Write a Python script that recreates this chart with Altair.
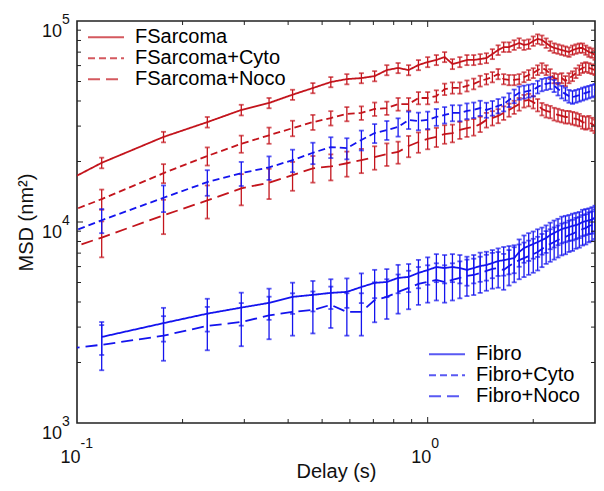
import altair as alt
import pandas as pd

FONT = "Liberation Sans"

# Delay (s): frames at 17 Hz
delay = [0.0588, 0.1176, 0.1765, 0.2353, 0.2941, 0.3529, 0.4118, 0.4706, 0.5294, 0.5882,
         0.6471, 0.7059, 0.7647, 0.8235, 0.8824, 0.9412, 1.0, 1.0588, 1.1176, 1.1765,
         1.2353, 1.2941, 1.3529, 1.4118, 1.4706, 1.5294, 1.5882, 1.6471, 1.7059, 1.7647,
         1.8235, 1.8824, 1.9412, 2.0, 2.0588, 2.1176, 2.1765, 2.2353, 2.2941, 2.3529,
         2.4118, 2.4706, 2.5294, 2.5882, 2.6471, 2.7059, 2.7647, 2.8235, 2.8824, 2.9412, 3.0]

red_names = ["FSarcoma", "FSarcoma+Cyto", "FSarcoma+Noco"]
blue_names = ["Fibro", "Fibro+Cyto", "Fibro+Noco"]

fsarcoma = [10500, 19700, 26500, 31400, 36100, 39100, 43000, 46400, 49700, 51400,
            52000, 53200, 57000, 58400, 57000, 60400, 62500, 64000, 66200, 61100,
            62500, 64000, 64000, 64700, 65400, 68500, 71700, 74200, 74200, 76000,
            77700, 76000, 76800, 79500, 81400, 80400, 77700, 75100, 73400, 72600,
            71700, 70900, 70100, 71700, 72600, 73400, 73400, 71700, 70100, 69300, 67700]
fsarcoma_err = [700, 1200, 1600, 1900, 2200, 2300, 2500, 2700, 2900, 3000,
                3000, 3100, 3300, 3400, 3300, 3500, 3600, 3700, 3800, 3500,
                3600, 3700, 3700, 3700, 3700, 3900, 4000, 4100, 4100, 4200,
                4300, 4200, 4200, 4300, 4400, 4300, 4200, 4100, 4000, 3900,
                3900, 3800, 3800, 3800, 3900, 3900, 3900, 3800, 3700, 3700, 3600]

fsarcoma_cyto = [8130, 13000, 17500, 21300, 24500, 27000, 29300, 31400, 32900, 34500,
                 34900, 36500, 36900, 38600, 38600, 41400, 41400, 42300, 45800, 46500,
                 46500, 47600, 48700, 50300, 51400, 52600, 54500, 51400, 50900, 50900,
                 51400, 52600, 53900, 55100, 57000, 58400, 57000, 54500, 52000, 51400,
                 52000, 50300, 52000, 53200, 55100, 57000, 58400, 59100, 58400, 57700, 57000]
fsarcoma_cyto_err = [900, 1500, 1900, 2200, 2400, 2500, 2600, 2700, 2700, 2800,
                     2700, 2800, 2800, 2800, 2800, 2900, 2900, 2900, 3000, 3000,
                     3000, 3000, 3000, 3100, 3100, 3100, 3200, 3000, 3000, 3000,
                     3000, 3000, 3100, 3100, 3200, 3300, 3200, 3100, 3000, 3000,
                     3000, 2900, 3000, 3000, 3100, 3200, 3300, 3300, 3300, 3200, 3200]

fsarcoma_noco = [5580, 8370, 10800, 12800, 14700, 15700, 17100, 18500, 18900, 19600,
                 20300, 21000, 21800, 22300, 23900, 25000, 25900, 26500, 27400, 27700,
                 28700, 29300, 29700, 30700, 32200, 32900, 33700, 34900, 36100, 37300,
                 38600, 40000, 40500, 39500, 38200, 36500, 35700, 35300, 34500, 34100,
                 33700, 33300, 33300, 32900, 32600, 32200, 31400, 31100, 31400, 30700, 30000]
fsarcoma_noco_err = [1100, 1700, 2100, 2400, 2600, 2700, 2800, 2800, 2800, 2800,
                     2800, 2800, 2800, 2800, 2900, 2900, 2900, 2900, 2900, 2800,
                     2800, 2800, 2800, 2700, 2700, 2700, 2700, 2700, 2700, 2800,
                     2800, 2900, 2900, 2800, 2700, 2600, 2600, 2500, 2500, 2500,
                     2400, 2400, 2400, 2400, 2400, 2300, 2300, 2300, 2300, 2300, 2300]

fibro = [None, 2680, 3140, 3500, 3750, 3960, 4240, 4340, 4440, 4490,
         4750, 4980, 5030, 5270, 5330, 5580, 5770, 5970, 5900, 5970,
         5900, 5770, 5900, 6040, 6110, 6250, 6390, 6460, 6540, 6610,
         7090, 7420, 7600, 7770, 7950, 8130, 8320, 8620, 8820, 9020,
         9230, 9330, 9440, 9550, 9660, 9770, 10000, 10100, 10200, 10300, 10500]
fibro_err = [None, 500, 600, 650, 700, 700, 750, 750, 750, 750,
             800, 800, 800, 850, 850, 900, 900, 950, 950, 950,
             950, 950, 950, 1000, 1000, 1000, 1000, 1050, 1050, 1050,
             1100, 1150, 1200, 1200, 1250, 1250, 1300, 1300, 1350, 1350,
             1400, 1400, 1400, 1450, 1450, 1450, 1500, 1500, 1500, 1550, 1550]

fibro_cyto = [6390, 10200, 13200, 15800, 17500, 18700, 20300, 22100, 23600, 23300,
              25600, 27700, 28700, 29700, 32200, 31800, 32200, 33300, 34100, 34900,
              34900, 35700, 36100, 36900, 36100, 36900, 37800, 38600, 40500, 42300,
              43900, 44400, 44900, 45400, 47000, 48100, 48700, 49200, 47600, 45900,
              44400, 43400, 42300, 41800, 42300, 42800, 43400, 43900, 44400, 44900, 45400]
fibro_cyto_err = [900, 1400, 2000, 2300, 2400, 2500, 2600, 2700, 2800, 2800,
                  2900, 3000, 3100, 3100, 3200, 3200, 3200, 3200, 3200, 3200,
                  3200, 3200, 3200, 3200, 3100, 3100, 3100, 3100, 3200, 3300,
                  3300, 3300, 3300, 3300, 3400, 3400, 3400, 3400, 3300, 3300,
                  3200, 3200, 3100, 3100, 3100, 3100, 3200, 3200, 3200, 3200, 3200]

fibro_noco = [2130, 2450, 2720, 3040, 3180, 3430, 3570, 3650, 3870, 3570,
              3570, 4090, 4240, 4490, 4700, 4920, 5030, 5150, 5030, 5150,
              5270, 5390, 5450, 5580, 5710, 5840, 5900, 5770, 6040, 6250,
              6460, 6610, 6770, 6920, 7090, 7340, 7600, 7770, 7950, 8130,
              8320, 8420, 8620, 8720, 8920, 9020, 9230, 9330, 9550, 9660, 9890]
fibro_noco_err = [500, 620, 680, 740, 770, 820, 850, 860, 900, 850,
                  850, 920, 950, 990, 1020, 1050, 1060, 1080, 1060, 1080,
                  1100, 1110, 1120, 1140, 1160, 1180, 1190, 1170, 1210, 1240,
                  1270, 1290, 1310, 1330, 1350, 1380, 1410, 1430, 1450, 1470,
                  1500, 1510, 1530, 1540, 1560, 1570, 1590, 1600, 1620, 1630, 1660]

# tick labels (base 10 with exponents)
x_label_values = [0.1, 1.0]
x_label_exps = ["-1", "0"]
y_label_values = [1000, 10000, 100000]
y_label_exps = ["3", "4", "5"]

red_color = "#c3141c"
blue_color = "#1414ee"
dashes = [[1, 0], [7, 4], [12, 6]]

x_major = [1.0]
x_minor = [0.2, 0.3, 0.4, 0.5, 0.6, 0.7, 0.8, 0.9, 2.0]
y_major = [10000]
y_minor = [2000, 3000, 4000, 5000, 6000, 7000, 8000, 9000,
           20000, 30000, 40000, 50000, 60000, 70000, 80000, 90000]


def long_table(names, values, errors):
    rows = []
    for name, vals, errs in zip(names, values, errors):
        for d, v, e in zip(delay, vals, errs):
            if v is None:
                continue
            row = {"Delay": d, "MSD": v, "Series": name}
            if e is not None:
                row["lo"] = v - e
                row["hi"] = v + e
            rows.append(row)
    return pd.DataFrame(rows)


red_df = long_table(red_names, [fsarcoma, fsarcoma_cyto, fsarcoma_noco],
                    [fsarcoma_err, fsarcoma_cyto_err, fsarcoma_noco_err])
blue_df = long_table(blue_names, [fibro, fibro_cyto, fibro_noco],
                     [fibro_err, fibro_cyto_err, fibro_noco_err])

W, H = 518, 402
xs = alt.Scale(type="log", domain=[0.1, 3], nice=False)
ys = alt.Scale(type="log", domain=[1000, 100000], nice=False)

x_axis = alt.Axis(values=[0.1, 1], labels=False,
                  title="Delay (s)", domain=False, ticks=False, tickSize=0, grid=False,
                  titleFontSize=20, titleX=W / 2, titleY=54, titleBaseline="alphabetic",
                  titleAlign="center")
y_axis = alt.Axis(values=[1000, 10000, 100000], labels=False,
                  title="MSD (nm²)", domain=False, ticks=False, tickSize=0, grid=False,
                  titleFontSize=20, titleAngle=270, titleX=-45, titleY=H / 2,
                  titleAlign="center", titleBaseline="alphabetic")


def legend(x, y):
    return alt.Legend(orient="none", legendX=x, legendY=y, title=None,
                      symbolType="stroke", symbolSize=1296, symbolStrokeWidth=1.8,
                      labelFontSize=20, labelFont=FONT, labelColor="black",
                      labelOffset=10, rowPadding=0, padding=0, clipHeight=20.5)


def group(df, names, color, leg, with_axes):
    cscale = alt.Scale(domain=names, range=[color] * 3)
    dscale = alt.Scale(domain=names, range=dashes)
    base = alt.Chart(df)
    if with_axes:
        xe = alt.X("Delay:Q", scale=xs, axis=x_axis)
        ye = alt.Y("MSD:Q", scale=ys, axis=y_axis)
    else:
        xe = alt.X("Delay:Q", scale=xs)
        ye = alt.Y("MSD:Q", scale=ys)
    lines = base.mark_line(clip=True, strokeWidth=1.8).encode(
        x=xe, y=ye,
        color=alt.Color("Series:N", scale=cscale, legend=leg),
        strokeDash=alt.StrokeDash("Series:N", scale=dscale, legend=leg),
    )
    bars = base.mark_rule(clip=True, strokeWidth=1.3).encode(
        x=alt.X("Delay:Q", scale=xs),
        y=alt.Y("lo:Q", scale=ys),
        y2="hi:Q",
        color=alt.Color("Series:N", scale=cscale),
    )
    cap_lo = base.mark_tick(clip=True, orient="horizontal", size=5, thickness=1.8).encode(
        x=alt.X("Delay:Q", scale=xs),
        y=alt.Y("lo:Q", scale=ys),
        color=alt.Color("Series:N", scale=cscale),
    )
    cap_hi = base.mark_tick(clip=True, orient="horizontal", size=5, thickness=1.8).encode(
        x=alt.X("Delay:Q", scale=xs),
        y=alt.Y("hi:Q", scale=ys),
        color=alt.Color("Series:N", scale=cscale),
    )
    return alt.layer(lines, bars, cap_lo, cap_hi)


red = group(red_df, red_names, red_color, legend(10, 6), True)
blue = group(blue_df, blue_names, blue_color, legend(351, 323), False)

TICK = "#222222"


def xticks(vals, length):
    d = pd.DataFrame({"t": vals})
    b = alt.Chart(d).mark_rule(color=TICK, strokeWidth=1)
    bottom = b.encode(x=alt.X("t:Q", scale=xs), y=alt.value(H), y2=alt.value(H - length))
    top = b.encode(x=alt.X("t:Q", scale=xs), y=alt.value(0), y2=alt.value(length))
    return [bottom, top]


def yticks(vals, length):
    d = pd.DataFrame({"t": vals})
    b = alt.Chart(d).mark_rule(color=TICK, strokeWidth=1)
    left = b.encode(y=alt.Y("t:Q", scale=ys), x=alt.value(0), x2=alt.value(length))
    right = b.encode(y=alt.Y("t:Q", scale=ys), x=alt.value(W), x2=alt.value(W - length))
    return [left, right]


tick_layers = xticks(x_major, 6) + xticks(x_minor, 4) + yticks(y_major, 6) + yticks(y_minor, 4)

LBL = "#111111"
xl = pd.DataFrame({"v": x_label_values, "base": ["10"] * 2, "exp": x_label_exps})
yl = pd.DataFrame({"v": y_label_values, "base": ["10"] * 3, "exp": y_label_exps})
x_base = alt.Chart(xl).mark_text(align="right", baseline="alphabetic", fontSize=18,
                                 dx=3.5, color=LBL, font=FONT).encode(
    x=alt.X("v:Q", scale=xs), y=alt.value(H + 40), text="base:N")
x_exp = alt.Chart(xl).mark_text(align="left", baseline="alphabetic", fontSize=14,
                                dx=3.5, color=LBL, font=FONT).encode(
    x=alt.X("v:Q", scale=xs), y=alt.value(H + 25), text="exp:N")
y_base = alt.Chart(yl).mark_text(align="right", baseline="alphabetic", fontSize=18,
                                 dy=16, color=LBL, font=FONT).encode(
    y=alt.Y("v:Q", scale=ys), x=alt.value(-15), text="base:N")
y_exp = alt.Chart(yl).mark_text(align="left", baseline="alphabetic", fontSize=14,
                                dy=3, color=LBL, font=FONT).encode(
    y=alt.Y("v:Q", scale=ys), x=alt.value(-15), text="exp:N")

chart = alt.layer(red, blue, *tick_layers, x_base, x_exp, y_base, y_exp).resolve_scale(
    color="independent", strokeDash="independent"
).properties(
    width=W, height=H,
    autosize=alt.AutoSizeParams(type="none"),
    padding={"left": 69, "top": 13, "right": 1, "bottom": 60},
).configure(font=FONT).configure_view(
    stroke="#222222", strokeWidth=1.6
).configure_axis(
    labelColor=LBL, titleColor=LBL, titleFontWeight="normal", labelFont=FONT, titleFont=FONT
)

chart.save("out.html", embed_options={"renderer": "svg", "actions": False})
